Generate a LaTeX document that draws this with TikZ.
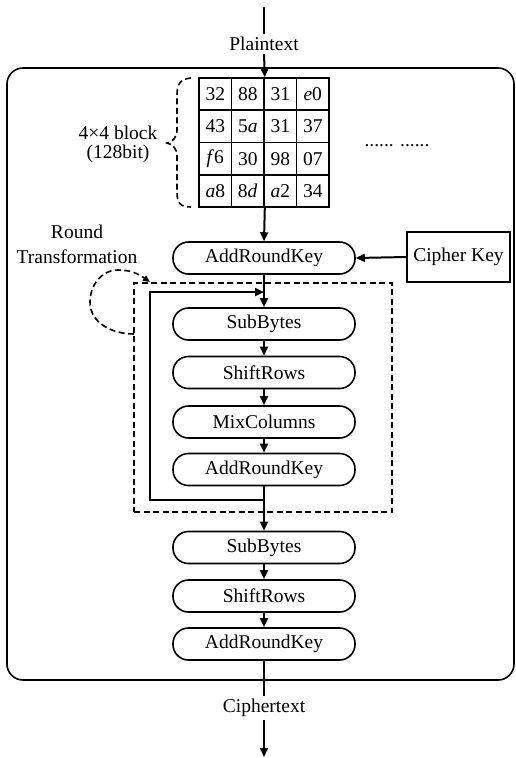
\documentclass[tikz,border=0pt]{standalone}
\usepackage{fontspec}
\setmainfont{Liberation Serif}
\usetikzlibrary{arrows.meta}
\begin{document}
\begin{tikzpicture}[x=1pt,y=-1pt,
  font=\fontsize{19.5}{23}\selectfont,
  stage/.style={draw, line width=1.6pt, rounded corners=15.5pt, minimum width=182pt, minimum height=32pt, inner sep=0pt},
  cell/.style={draw, line width=1.6pt, minimum width=32.5pt, minimum height=32.25pt, inner sep=0pt},
  lbl/.style={inner sep=3pt},
  flow/.style={line width=2pt, -{Triangle[length=9pt,width=8pt]}},
  plainline/.style={line width=2pt},
  dashline/.style={line width=1.6pt, dash pattern=on 6pt off 3.5pt},
]
\useasboundingbox (0,0) rectangle (516,758);

% outer frame
\node[draw, line width=1.6pt, rounded corners=16pt, minimum width=507pt, minimum height=612pt, inner sep=0pt] (outer) at (260.5,374) {};

% plaintext
\coordinate (top) at (264,7);
\node[lbl] (pt) at (264,44) {Plaintext};

% 4x4 block
\foreach \r/\c/\t in {0/0/32,0/1/88,0/2/31,0/3/\textit{e}0,
                      1/0/43,1/1/5\textit{a},1/2/31,1/3/37,
                      2/0/\textit{f}6,2/1/30,2/2/98,2/3/07,
                      3/0/\textit{a}8,3/1/8\textit{d},3/2/\textit{a}2,3/3/34}
  \node[cell] (c\r\c) at ({199+16.25+32.5*\c},{78+16.125+32.25*\r}) {\t};

\draw[dashline] (191,78) .. controls (180,79) and (177,84) .. (177,95) -- (177,130)
  .. controls (177,138) and (172,142) .. (167,143)
  .. controls (172,144) and (177,148) .. (177,156) -- (177,192)
  .. controls (177,203) and (180,207) .. (191,207);
\node[align=center, font=\fontsize{19.5}{19}\selectfont] (blk) at (118,144) {4×4 block\\(128bit)};
\node[anchor=base] (dots) at (397,146) {...... ......};

% stages
\node[stage] (ark1) at (264,258) {AddRoundKey};
\node[draw, line width=1.6pt, minimum width=103pt, minimum height=50pt, inner sep=0pt] (ck) at (458.5,257) {Cipher Key};

\node[align=center, font=\fontsize{19.5}{25}\selectfont] (rtl) at (77,244) {Round\\Transformation};
\node[draw, dashline, minimum width=258pt, minimum height=229pt, inner sep=0pt] (rtbox) at (263,397.5) {};

\node[stage] (sb1) at (264,324) {SubBytes};
\node[stage] (sr1) at (264,372.5) {ShiftRows};
\node[stage] (mc) at (264,422) {MixColumns};
\node[stage] (ark2) at (264,469.5) {AddRoundKey};

\node[stage] (sb2) at (264,547.5) {SubBytes};
\node[stage] (sr2) at (264,596) {ShiftRows};
\node[stage] (ark3) at (264,644) {AddRoundKey};

\node[lbl] (ctx) at (264,708) {Ciphertext};
\coordinate (bot) at (264,757);

% connectors
\draw[plainline] (top) -- (pt.north);
\draw[flow] (pt.south) -- (c01.north east);
\draw[flow] (c31.south east) -- (ark1.north);
\draw[flow] (ck.west) -- (ark1.east);
\draw[flow] (ark1.south) -- (sb1.north);
\draw[flow] (sb1.south) -- (sr1.north);
\draw[flow] (sr1.south) -- (mc.north);
\draw[flow] (mc.south) -- (ark2.north);
\draw[flow] (ark2.south) -- (sb2.north);
\draw[flow] (sb2.south) -- (sr2.north);
\draw[flow] (sr2.south) -- (ark3.north);
\draw[plainline] (ark3.south) -- (ctx.north);
\draw[flow] (ctx.south) -- (bot);

% round loop
\coordinate (loopout) at (264,500);
\coordinate (loopin) at (264,292);
\draw[line width=2.6pt, -{Triangle[length=9pt,width=8pt]}] (loopout) -- ++(-114,0) |- (loopin);

% dashed round arrow
\coordinate (dls) at (134,334);
\coordinate (dle) at (150,282);
\draw[dashline, -{Triangle[length=7pt,width=6pt]}] (dls) to[out=180,in=-90] (90,302) to[out=90,in=180] (118,270) to[out=0,in=145] (dle);
\end{tikzpicture}
\end{document}
